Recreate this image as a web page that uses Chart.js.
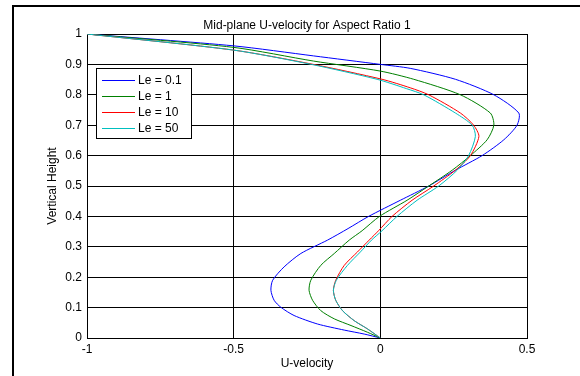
<!DOCTYPE html>
<html>
<head>
<meta charset="utf-8">
<script src="https://cdn.jsdelivr.net/npm/chart.js@4.4.1/dist/chart.umd.min.js"></script>
<style>
  html, body { margin: 0; padding: 0; background: #fff; }
</style>
</head>
<body>
<canvas id="graficaVelocidad" width="580" height="376"></canvas>
<script>
// datos (U-velocity vs altura)
const etiquetas = ['Le = 0.1', 'Le = 1', 'Le = 10', 'Le = 50'];
const colores = ['#0000ff', '#008000', '#ff0000', '#00bfbf'];

const ticksX = [-1, -0.5, 0, 0.5];
const ticksY = [0, 0.1, 0.2, 0.3, 0.4, 0.5, 0.6, 0.7, 0.8, 0.9, 1];

const alturaLe01 = [0, 0.013, 0.026, 0.046, 0.074, 0.101, 0.124, 0.157, 0.19, 0.234, 0.278, 0.322, 0.36, 0.4, 0.453, 0.5, 0.552, 0.6, 0.652, 0.7, 0.74, 0.8, 0.851, 0.887, 0.9, 0.928, 0.961, 1];
const velLe01 = [0, -0.055, -0.123, -0.214, -0.294, -0.339, -0.362, -0.373, -0.367, -0.328, -0.271, -0.18, -0.11, -0.04, 0.068, 0.165, 0.256, 0.347, 0.421, 0.466, 0.472, 0.387, 0.256, 0.102, 0, -0.228, -0.5, -1];

const alturaLe1 = [0, 0.019, 0.041, 0.063, 0.09, 0.124, 0.157, 0.19, 0.239, 0.278, 0.322, 0.353, 0.4, 0.453, 0.5, 0.552, 0.6, 0.652, 0.7, 0.74, 0.8, 0.851, 0.878, 0.911, 0.956, 1];
const velLe1 = [0, -0.044, -0.1, -0.157, -0.203, -0.231, -0.243, -0.237, -0.203, -0.157, -0.106, -0.062, -0.003, 0.091, 0.165, 0.245, 0.307, 0.364, 0.387, 0.375, 0.273, 0.114, 0, -0.228, -0.5, -1];

const alturaLe10 = [0, 0.03, 0.057, 0.09, 0.124, 0.157, 0.19, 0.239, 0.283, 0.322, 0.353, 0.4, 0.453, 0.5, 0.552, 0.6, 0.663, 0.7, 0.74, 0.8, 0.823, 0.851, 0.9, 0.947, 1];
const velLe10 = [0, -0.044, -0.089, -0.129, -0.152, -0.16, -0.152, -0.123, -0.078, -0.038, -0.006, 0.04, 0.108, 0.182, 0.256, 0.307, 0.336, 0.318, 0.273, 0.165, 0.102, 0.006, -0.228, -0.5, -1];

const alturaLe50 = [0, 0.03, 0.057, 0.09, 0.124, 0.157, 0.19, 0.239, 0.283, 0.322, 0.353, 0.4, 0.453, 0.5, 0.552, 0.6, 0.663, 0.7, 0.74, 0.8, 0.82, 0.851, 0.9, 0.947, 1];
const velLe50 = [0, -0.044, -0.089, -0.129, -0.152, -0.16, -0.15, -0.112, -0.068, -0.03, 0.006, 0.057, 0.125, 0.199, 0.262, 0.301, 0.324, 0.313, 0.256, 0.148, 0.09, -0.011, -0.235, -0.5, -1];

const fuente = "'Liberation Sans', Arial, sans-serif";

function puntos(vel, altura) {
	return vel.map(function (v, i) { return { x: v, y: altura[i] }; });
}

// marco, titulo y leyenda dentro del area
const extras = {
	id: 'extras',
	beforeDraw: function (chart) {
		const ctx = chart.ctx;
		ctx.save();
		ctx.fillStyle = '#fff';
		ctx.fillRect(0, 0, chart.width, chart.height);
		ctx.fillStyle = '#000';
		ctx.fillRect(12, 5, 2, chart.height - 5);
		ctx.fillRect(12, 5, chart.width - 12, 2);
		ctx.restore();
	},
	afterDraw: function (chart) {
		const ctx = chart.ctx;
		const area = chart.chartArea;
		ctx.save();
		ctx.fillStyle = '#000';
		ctx.font = '12px ' + fuente;
		ctx.textAlign = 'center';
		ctx.textBaseline = 'alphabetic';
		ctx.fillText('Mid-plane U-velocity for Aspect Ratio 1', (area.left + area.right) / 2, 29);

		// leyenda
		const x0 = 96, y0 = 68, ancho = 95, alto = 70;
		ctx.fillStyle = '#fff';
		ctx.fillRect(x0, y0, ancho, alto);
		ctx.strokeStyle = '#000';
		ctx.lineWidth = 1;
		ctx.strokeRect(x0 + 0.5, y0 + 0.5, ancho, alto);
		ctx.textAlign = 'left';
		ctx.textBaseline = 'middle';
		chart.data.datasets.forEach(function (ds, i) {
			const y = y0 + 12 + i * 16;
			ctx.strokeStyle = ds.borderColor;
			ctx.beginPath();
			ctx.moveTo(x0 + 6, y + 0.5);
			ctx.lineTo(x0 + 39, y + 0.5);
			ctx.stroke();
			ctx.fillStyle = '#000';
			ctx.fillText(ds.label, x0 + 42, y + 1);
		});
		ctx.restore();
	}
};

const series = [
	puntos(velLe01, alturaLe01),
	puntos(velLe1, alturaLe1),
	puntos(velLe10, alturaLe10),
	puntos(velLe50, alturaLe50)
];

const ctx = document.getElementById('graficaVelocidad').getContext('2d');
new Chart(ctx, {
	type: 'scatter',
	data: {
		datasets: series.map(function (datos, i) {
			return {
				label: etiquetas[i],
				data: datos,
				showLine: true,
				borderColor: colores[i],
				backgroundColor: colores[i],
				borderWidth: 1,
				pointRadius: 0,
				tension: 0.25,
				order: 4 - i
			};
		})
	},
	options: {
		responsive: false,
		devicePixelRatio: 1,
		animation: false,
		layout: { padding: { left: 0, top: 34, right: 53, bottom: 0 } },
		plugins: {
			legend: { display: false },
			tooltip: { enabled: false }
		},
		scales: {
			x: {
				type: 'linear',
				min: -1,
				max: 0.5,
				afterBuildTicks: function (scale) {
					scale.ticks = ticksX.map(function (v) { return { value: v }; });
				},
				afterFit: function (scale) { scale.height = 38; },
				grid: { color: '#000', lineWidth: 1, drawTicks: false },
				border: { display: true, color: '#000', width: 1 },
				ticks: {
					color: '#000',
					padding: 4,
					maxRotation: 0,
					autoSkip: false,
					font: { family: fuente, size: 12 },
					callback: function (v) { return String(v); }
				},
				title: {
					display: true,
					text: 'U-velocity',
					color: '#000',
					font: { family: fuente, size: 12 },
					padding: { top: 0, bottom: 5 }
				}
			},
			y: {
				type: 'linear',
				min: 0,
				max: 1,
				afterBuildTicks: function (scale) {
					scale.ticks = ticksY.map(function (v) { return { value: v }; });
				},
				afterFit: function (scale) { scale.width = 87; },
				grid: { color: '#000', lineWidth: 1, drawTicks: false },
				border: { display: true, color: '#000', width: 1 },
				ticks: {
					color: '#000',
					padding: 5,
					autoSkip: false,
					font: { family: fuente, size: 12 },
					callback: function (v) { return String(v); }
				},
				title: {
					display: true,
					text: 'Vertical Height',
					color: '#000',
					font: { family: fuente, size: 12 },
					padding: { top: 45, bottom: 0 }
				}
			}
		}
	},
	plugins: [extras]
});
</script>
</body>
</html>
